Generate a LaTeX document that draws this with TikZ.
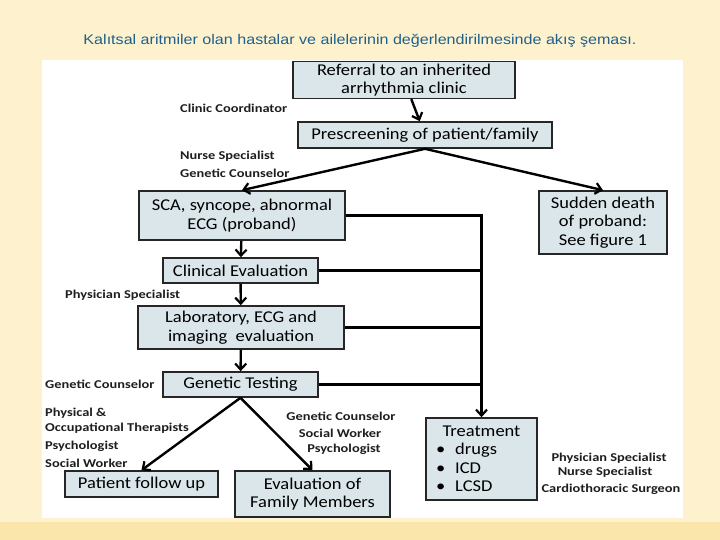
\documentclass[tikz,border=0pt]{standalone}
\usepackage{fontspec}
\usetikzlibrary{arrows.meta}
\newfontfamily\carlito[FakeStretch=1.12]{Carlito}
\newfontfamily\rolefont[FakeStretch=1.2]{Carlito}
\newfontfamily\titlefont[FakeStretch=1.15]{Liberation Sans}
\definecolor{pagecream}{RGB}{254,242,206}
\definecolor{pageband}{RGB}{250,230,170}
\definecolor{boxfill}{RGB}{218,230,234}
\definecolor{titleblue}{RGB}{31,96,140}
\definecolor{rolegray}{RGB}{30,30,30}

\tikzset{
  flowbox/.style={draw=black!85, fill=boxfill, line width=1.6pt, align=center,
    inner sep=2pt, font=\carlito\fontsize{16.5}{18.5}\selectfont},
  flowarrow/.style={line width=2.4pt, -{Straight Barb[length=6pt,width=11pt,line width=2.2pt]}},
  flowline/.style={line width=2.4pt},
  rolelabel/.style={anchor=west, inner sep=0pt, text=rolegray,
    font=\rolefont\bfseries\fontsize{12}{14}\selectfont}
}

\begin{document}
\begin{tikzpicture}[x=1pt, y=-1pt]

  % --- Page: cream slide with the white figure panel ---
  \useasboundingbox (0,0) rectangle (720,540);
  \fill[pagecream] (0,0) rectangle (720,540);
  \fill[pageband] (0,522) rectangle (720,540);
  \fill[white] (42,60) rectangle (683,518);

  % --- Slide title ---
  \node[font=\titlefont\fontsize{14}{16}\selectfont, text=titleblue] (title) at (360,41)
    {Kalıtsal aritmiler olan hastalar ve ailelerinin değerlendirilmesinde akış şeması.};

  % --- Flow boxes, placed at the centres measured on the figure ---
  \node[flowbox, minimum width=222, minimum height=36] (referral) at (404,80)
    {Referral to an inherited\\arrhythmia clinic};
  \node[flowbox, minimum width=254, minimum height=26] (prescreen) at (425,135)
    {Prescreening of patient/family};
  \node[flowbox, minimum width=206, minimum height=49] (sca) at (242,215.5)
    {SCA, syncope, abnormal\\ECG (proband)};
  \node[flowbox, minimum width=128, minimum height=63] (sudden) at (603,222.5)
    {Sudden death\\of proband:\\See figure 1};
  \node[flowbox, minimum width=155, minimum height=25] (clinical) at (240.5,270.5)
    {Clinical Evaluation};
  \node[flowbox, minimum width=206, minimum height=43] (lab) at (241,327.5)
    {Laboratory, ECG and\\imaging\ \ evaluation};
  \node[flowbox, minimum width=155, minimum height=25] (genetic) at (240.5,384.5)
    {Genetic Testing};
  \node[flowbox, minimum width=153, minimum height=26] (followup) at (141.5,484)
    {Patient follow up};
  \node[flowbox, minimum width=155, minimum height=46] (family) at (312.5,494)
    {Evaluation of\\Family Members};
  \node[flowbox, minimum width=111, minimum height=82, text width=103pt, align=left]
    (treatment) at (481.5,459)
    {\makebox[\linewidth][c]{Treatment}\\
     \hspace*{6pt}\textbullet\hspace{10pt}drugs\\
     \hspace*{6pt}\textbullet\hspace{10pt}ICD\\
     \hspace*{6pt}\textbullet\hspace{10pt}LCSD};

  % --- Connectors down the main column ---
  \draw[flowarrow] (referral) -- (prescreen);
  \draw[flowarrow] (prescreen.south) -- (sca.north);
  \draw[flowarrow] (prescreen.south) -- (sudden.north);
  \draw[flowarrow] (sca) -- (clinical);
  \draw[flowarrow] (clinical) -- (lab);
  \draw[flowarrow] (lab) -- (genetic);
  \draw[flowarrow] (genetic.south) -- (followup.north);
  \draw[flowarrow] (genetic.south) -- (family.north);

  % --- Right-hand bus: every step can lead to treatment ---
  \draw[flowarrow] (sca.east) -| (treatment.north);
  \foreach \step in {clinical,lab,genetic}
    \draw[flowline] (\step.east) -- (\step.east -| treatment.north);

  % --- Staff responsible at each step ---
  \node[rolelabel] (coord) at (180,108) {Clinic Coordinator};
  \node[rolelabel] (nurseA) at (180,156) {Nurse Specialist};
  \node[rolelabel] (gcA) at (180,173) {Genetic Counselor};
  \node[rolelabel] (physA) at (65,295) {Physician Specialist};
  \node[rolelabel] (gcB) at (45,384) {Genetic Counselor};
  \node[rolelabel] (therapA) at (45,413) {Physical \&};
  \node[rolelabel] (therapB) at (45,428) {Occupational Therapists};
  \node[rolelabel] (psychA) at (45,446) {Psychologist};
  \node[rolelabel] (socialA) at (45,463) {Social Worker};
  \node[rolelabel, anchor=center] (gcC) at (341,416) {Genetic Counselor};
  \node[rolelabel, anchor=center] (socialB) at (340,433) {Social Worker};
  \node[rolelabel, anchor=center] (psychB) at (344,449) {Psychologist};
  \node[rolelabel, anchor=center] (physB) at (609,458) {Physician Specialist};
  \node[rolelabel, anchor=center] (nurseB) at (605,472) {Nurse Specialist};
  \node[rolelabel, anchor=center] (surgeon) at (611,489) {Cardiothoracic Surgeon};

\end{tikzpicture}
\end{document}
